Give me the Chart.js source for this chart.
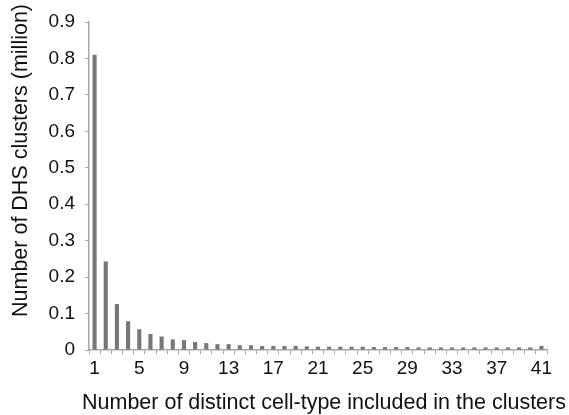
<!DOCTYPE html>
<html>
<head>
<meta charset="utf-8">
<script src="https://cdn.jsdelivr.net/npm/chart.js@4/dist/chart.umd.min.js"></script>
<style>
  html, body { margin: 0; padding: 0; background: #fff; }
  #wrap { width: 569px; height: 415px; }
</style>
</head>
<body>
<div id="wrap"><canvas id="dhsChart"></canvas></div>
<script>
// Données
const cellTypes = [];
for (let i = 1; i <= 41; i++) cellTypes.push(String(i));

const clusters = [
  0.81, 0.243, 0.126, 0.079, 0.057, 0.044, 0.037, 0.029, 0.027, 0.022,
  0.019, 0.016, 0.016, 0.013, 0.013, 0.011, 0.011, 0.011, 0.011, 0.010,
  0.009, 0.009, 0.009, 0.009, 0.009, 0.008, 0.008, 0.008, 0.008, 0.007,
  0.007, 0.007, 0.007, 0.007, 0.007, 0.007, 0.007, 0.007, 0.007, 0.007,
  0.011
];

const yTicks = [0, 0.1, 0.2, 0.3, 0.4, 0.5, 0.6, 0.7, 0.8, 0.9];

const xTitle = 'Number of distinct cell-type included in the clusters';
const yTitle = 'Number of DHS clusters (million)';

const tickFont = { family: "'Liberation Sans', Arial, sans-serif", size: 19 };

// Titres des axes dessinés à la main pour coller à la position d'origine
const axisTitles = {
  id: 'axisTitles',
  afterDraw(chart) {
    const ctx = chart.ctx;
    ctx.save();
    ctx.fillStyle = '#111';
    ctx.font = "21.5px 'Liberation Sans', Arial, sans-serif";
    ctx.textAlign = 'center';
    ctx.textBaseline = 'alphabetic';
    ctx.fillText(xTitle, 324, 409);
    ctx.translate(27, 160.5);
    ctx.rotate(-Math.PI / 2);
    ctx.fillText(yTitle, 0, 0);
    ctx.restore();
  }
};

new Chart(document.getElementById('dhsChart'), {
  type: 'bar',
  data: {
    labels: cellTypes,
    datasets: [{
      data: clusters,
      backgroundColor: '#777777',
      barPercentage: 0.37,
      categoryPercentage: 1
    }]
  },
  options: {
    responsive: true,
    maintainAspectRatio: false,
    animation: false,
    layout: { padding: { top: 22, right: 22, left: 0, bottom: 0 } },
    plugins: {
      legend: { display: false },
      tooltip: { enabled: false }
    },
    scales: {
      x: {
        afterFit: s => { s.height = 65; },
        grid: { display: true, drawOnChartArea: false, color: '#a8a8a8', tickLength: 4, offset: true },
        border: { color: '#a8a8a8', width: 1.5 },
        ticks: {
          autoSkip: false,
          maxRotation: 0,
          color: '#111',
          font: tickFont,
          padding: 3,
          callback: (v, i) => (i % 4 === 0 ? cellTypes[i] : '')
        }
      },
      y: {
        min: 0,
        max: 0.9,
        afterFit: s => { s.width = 89; },
        afterBuildTicks: s => { s.ticks = yTicks.map(v => ({ value: v })); },
        grid: { display: true, drawOnChartArea: false, color: '#a8a8a8', tickLength: 4 },
        border: { color: '#a8a8a8', width: 1.5 },
        ticks: {
          color: '#111',
          font: tickFont,
          padding: 10,
          callback: v => String(Math.round(v * 10) / 10)
        }
      }
    }
  },
  plugins: [axisTitles]
});
</script>
</body>
</html>
